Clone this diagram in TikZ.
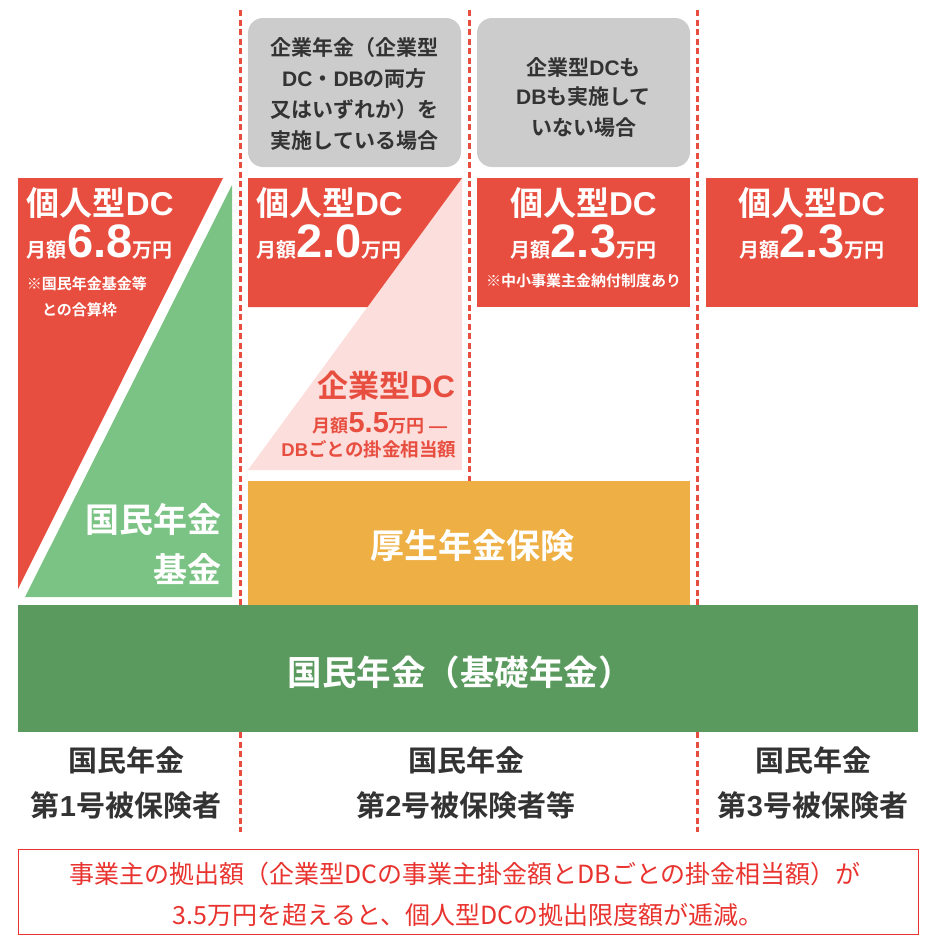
\documentclass[tikz,border=0pt]{standalone}
\usepackage{fontspec}
\setmainfont{Noto Sans CJK JP}[BoldFont={Noto Sans CJK JP Bold}]
\newfontfamily\lat{Liberation Sans}
\definecolor{dcred}{HTML}{E84E3F}
\definecolor{kgreen}{HTML}{7BC384}
\definecolor{bgreen}{HTML}{5A9A5E}
\definecolor{kor}{HTML}{EEB044}
\definecolor{kpink}{HTML}{FCDEDC}
\definecolor{kgray}{HTML}{CCCCCC}
\definecolor{ktext}{HTML}{333333}
\definecolor{notered}{HTML}{E8332F}
\newcommand\fs[1]{\fontsize{#1}{#1}\selectfont}
\newcommand\lb[1]{{\lat\bfseries #1}}
\begin{document}
\begin{tikzpicture}[x=1pt,y=-1pt,
  txt/.style={inner sep=0pt,outer sep=0pt},
  wtitle/.style={txt,text=white,font=\fs{33}\bfseries},
  wsmall/.style={txt,text=white,font=\fs{15}\bfseries},
  graytxt/.style={txt,text=ktext,font=\fs{21}\bfseries},
  bottomtxt/.style={txt,text=ktext,font=\fs{29}\bfseries},
  divider/.style={draw=dcred,line width=3pt,dash pattern=on 6pt off 3.5pt}]
\useasboundingbox (0,0) rectangle (936,946);
% dividers
\coordinate (d1t) at (240,10); \coordinate (d1b) at (240,832);
\coordinate (d2t) at (469,10); \coordinate (d2b) at (469,481);
\coordinate (d3t) at (697,10); \coordinate (d3b) at (697,832);
\draw[divider] (d1t) -- (d1b);
\draw[divider] (d2t) -- (d2b);
\draw[divider] (d3t) -- (d3b);
% gray heading boxes
\fill[kgray,rounded corners=15pt] (248,18) rectangle (461,167);
\fill[kgray,rounded corners=15pt] (477,18) rectangle (690,167);
\node[graytxt] (g1a) at (354.5,48) {企業年金（企業型};
\node[graytxt] (g1b) at (354.5,79) {\lb{DC}・\lb{DB}の両方};
\node[graytxt] (g1c) at (354.5,110) {又はいずれか）を};
\node[graytxt] (g1d) at (354.5,141) {実施している場合};
\node[graytxt] (g2a) at (583.5,67) {企業型\lb{DC}も};
\node[graytxt] (g2b) at (583.5,97) {\lb{DB}も実施して};
\node[graytxt] (g2c) at (583.5,128) {いない場合};
% column 1
\fill[dcred] (18,178) -- (223,178) -- (18,589) -- cycle;
\fill[kgreen] (232,185) -- (232,597) -- (25,597) -- cycle;
\node[wtitle,anchor=west] (c1t) at (27,203) {個人型\lb{DC}};
\node[txt,text=white,anchor=base west] (c1m) at (27,257) {\fs{20}\bfseries 月額\fs{47}\lb{6.8}\fs{20}\bfseries 万円};
\node[wsmall,anchor=west] (c1n1) at (27,284) {※国民年金基金等};
\node[wsmall,anchor=west] (c1n2) at (42,310) {との合算枠};
\node[txt,text=white,font=\fs{34}\bfseries,anchor=east] (c1g1) at (221,520) {国民年金};
\node[txt,text=white,font=\fs{34}\bfseries,anchor=east] (c1g2) at (221,569) {基金};
% column 2
\fill[kpink] (462,178) -- (462,470) -- (248,470) -- cycle;
\fill[dcred] (248,178) -- (462,178) -- (367.5,307) -- (248,307) -- cycle;
\node[wtitle,anchor=west] (c2t) at (256,203) {個人型\lb{DC}};
\node[txt,text=white,anchor=base west] (c2m) at (256,257) {\fs{20}\bfseries 月額\fs{47}\lb{2.0}\fs{20}\bfseries 万円};
\node[txt,text=dcred,font=\fs{31}\bfseries,anchor=east] (c2p1) at (455,386) {企業型\lb{DC}};
\node[txt,text=dcred,anchor=base east] (c2p2) at (447,432) {\fs{18}\bfseries 月額\fs{29}\lb{5.5}\fs{18}\bfseries 万円 \lb{—}};
\node[txt,text=dcred,font=\fs{18.5}\bfseries,anchor=east] (c2p3) at (456,449) {\lb{DB}ごとの掛金相当額};
% column 3
\fill[dcred] (477,178) rectangle (690,307);
\node[wtitle] (c3t) at (583.5,203) {個人型\lb{DC}};
\node[txt,text=white,anchor=base] (c3m) at (583.5,257) {\fs{20}\bfseries 月額\fs{47}\lb{2.3}\fs{20}\bfseries 万円};
\node[wsmall] (c3n) at (583.5,281) {※中小事業主金納付制度あり};
% column 4
\fill[dcred] (706,178) rectangle (918,307);
\node[wtitle] (c4t) at (812,203) {個人型\lb{DC}};
\node[txt,text=white,anchor=base] (c4m) at (812,257) {\fs{20}\bfseries 月額\fs{47}\lb{2.3}\fs{20}\bfseries 万円};
% employee pension
\fill[kor] (248,481) rectangle (690,605);
\node[txt,text=white,font=\fs{34}\bfseries] (kosei) at (472,546) {厚生年金保険};
% basic pension
\fill[bgreen] (18,605) rectangle (918,732);
\node[txt,text=white,font=\fs{34.5}\bfseries] (kiso) at (460,672) {国民年金（基礎年金）};
% bottom labels
\node[bottomtxt] (b1a) at (126,760) {国民年金};
\node[bottomtxt] (b1b) at (126,805) {第\lb{1}号被保険者};
\node[bottomtxt] (b2a) at (466,760) {国民年金};
\node[bottomtxt] (b2b) at (466,805) {第\lb{2}号被保険者等};
\node[bottomtxt] (b3a) at (813,760) {国民年金};
\node[bottomtxt] (b3b) at (813,805) {第\lb{3}号被保険者};
% note box
\draw[notered,line width=1pt] (18,849) rectangle (918,934);
\node[txt,text=notered,font=\fs{25}] (n1) at (465,874) {事業主の拠出額（企業型DCの事業主掛金額とDBごとの掛金相当額）が};
\node[txt,text=notered,font=\fs{25}] (n2) at (468,915) {3.5万円を超えると、個人型DCの拠出限度額が逓減。};
\end{tikzpicture}
\end{document}
